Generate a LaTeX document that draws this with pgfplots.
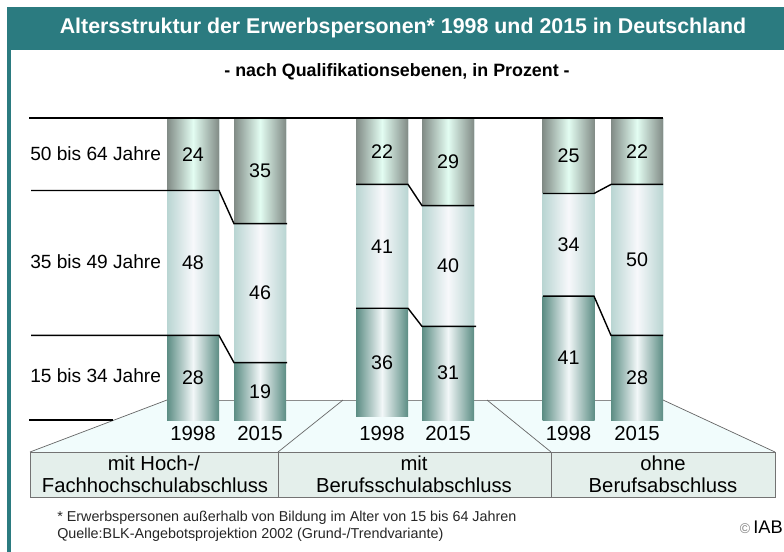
\documentclass[border=0pt]{standalone}
\usepackage{fontspec}
\setmainfont{Liberation Sans}
\usepackage{pgfplots}
\pgfplotsset{compat=1.18}
\definecolor{tealbar}{HTML}{2B7B80}
\definecolor{topE}{HTML}{818B86}
\definecolor{topM}{HTML}{E3FDF2}
\definecolor{midE}{HTML}{B9D5D2}
\definecolor{midM}{HTML}{F7F8FB}
\definecolor{botE}{HTML}{5C8D84}
\definecolor{botM}{HTML}{F2F7F8}
\definecolor{floorc}{HTML}{F1FCFC}
\definecolor{boxfill}{HTML}{E4EFEB}
\newcommand{\Y}[1]{((#1)-118)/3.02}
\newcommand{\fs}[1]{\fontsize{#1}{#1}\selectfont}
\pgfplotsset{
  segT/.style={bar shift=0pt, draw=none, left color=topE, right color=topE, middle color=topM},
  segM/.style={bar shift=0pt, draw=none, left color=midE, right color=midE, middle color=midM},
  segB/.style={bar shift=0pt, draw=none, left color=botE, right color=botE, middle color=botM},
  bline/.style={sharp plot, black, line width=1pt},
}
\begin{document}
\begin{tikzpicture}
\begin{axis}[
  scale only axis, width=19.6cm, height=13.8cm,
  xmin=0, xmax=784, y dir=reverse, ymin=-39.0728, ymax=143.7086,
  hide axis, clip=false,
  ybar, bar width=52,
]
% frame
\path (axis cs:0,{\Y{0}}) rectangle (axis cs:784,{\Y{552}});
\fill[tealbar] (axis cs:7,{\Y{7}}) rectangle (axis cs:784,{\Y{50}});
\fill[tealbar] (axis cs:7,{\Y{7}}) rectangle (axis cs:11,{\Y{552}});
\node[text=white, font=\bfseries\fs{15.2}] at (axis cs:403,{\Y{28}}) {Altersstruktur der Erwerbspersonen* 1998 und 2015 in Deutschland};
\node[font=\bfseries\fs{12.7}] at (axis cs:397,{\Y{72}}) {- nach Qualifikationsebenen, in Prozent -};
% floor
\fill[floorc] (axis cs:167,{\Y{400}}) -- (axis cs:663,{\Y{400}}) -- (axis cs:775,{\Y{452}}) -- (axis cs:30,{\Y{452}}) -- cycle;
\draw[black!45, line width=0.6pt] (axis cs:167,{\Y{400}}) -- (axis cs:663,{\Y{400}});
\draw[black!60, line width=0.5pt] (axis cs:167,{\Y{400}}) -- (axis cs:30,{\Y{452}});
\draw[black!60, line width=0.5pt] (axis cs:343,{\Y{400}}) -- (axis cs:278,{\Y{452}});
\draw[black!60, line width=0.5pt] (axis cs:487,{\Y{400}}) -- (axis cs:551,{\Y{452}});
\draw[black!60, line width=0.5pt] (axis cs:663,{\Y{400}}) -- (axis cs:775,{\Y{452}});
\draw[black, line width=1pt] (axis cs:29,{\Y{420}}) -- (axis cs:113,{\Y{420}});
% box
\draw[black!55, fill=boxfill, line width=0.7pt] (axis cs:30,{\Y{452}}) rectangle (axis cs:775,{\Y{497}});
\draw[black!55, line width=0.7pt] (axis cs:278,{\Y{452}}) -- (axis cs:278,{\Y{497}});
\draw[black!55, line width=0.7pt] (axis cs:551,{\Y{452}}) -- (axis cs:551,{\Y{497}});

% bars, cumulative from the top: 15-34 (to bottom), 35-49, 50-64
\addplot[segB] coordinates {(193,100)};
\addplot[segM] coordinates {(193,72)};
\addplot[segT] coordinates {(193,24)};
\addplot[segB] coordinates {(260,100)};
\addplot[segM] coordinates {(260,81)};
\addplot[segT] coordinates {(260,35)};
\addplot[segB] coordinates {(382,99)};
\addplot[segM] coordinates {(382,63)};
\addplot[segT] coordinates {(382,22)};
\addplot[segB] coordinates {(448,100)};
\addplot[segM] coordinates {(448,69)};
\addplot[segT] coordinates {(448,29)};
\addplot[segB] coordinates {(568.5,100)};
\addplot[segM] coordinates {(568.5,59)};
\addplot[segT] coordinates {(568.5,25)};
\addplot[segB] coordinates {(637,100)};
\addplot[segM] coordinates {(637,72)};
\addplot[segT] coordinates {(637,22)};

% boundary lines
\addplot[bline] coordinates {(29,0) (663,0)};
\addplot[bline] coordinates {(31,24) (219,24) (234,35) (287,35)};
\addplot[bline] coordinates {(31,72) (219,72) (234,81) (287,81)};
\addplot[bline] coordinates {(356,22) (408,22) (422,29) (474,29)};
\addplot[bline] coordinates {(356,63) (408,63) (422,69) (476,69)};
\addplot[bline] coordinates {(543,25) (594,25) (611,22) (663,22)};
\addplot[bline] coordinates {(543,59) (594,59) (611,72) (663,72)};

% value labels
\addplot[only marks, mark=*, mark size=0pt, draw=none, fill=none,
  point meta=explicit symbolic, nodes near coords,
  every node near coord/.append style={anchor=center, font=\fs{14}, text=black, inner sep=0pt}]
  coordinates {
  (193,12) [24] (193,48) [48] (193,86) [28]
  (260,17.5) [35] (260,58) [46] (260,90.5) [19]
  (382,11) [22] (382,42.5) [41] (382,81) [36]
  (448,14.5) [29] (448,49) [40] (448,84.5) [31]
  (568.5,12.5) [25] (568.5,42) [34] (568.5,79.5) [41]
  (637,11) [22] (637,47) [50] (637,86) [28]
  };

% age labels
\node[anchor=west, font=\fs{13.6}, inner sep=0pt] at (axis cs:30,{\Y{154}}) {50 bis 64 Jahre};
\node[anchor=west, font=\fs{13.6}, inner sep=0pt] at (axis cs:30,{\Y{262}}) {35 bis 49 Jahre};
\node[anchor=west, font=\fs{13.6}, inner sep=0pt] at (axis cs:30,{\Y{376}}) {15 bis 34 Jahre};
% years
\node[font=\fs{14.5}] at (axis cs:193,{\Y{433}}) {1998};
\node[font=\fs{14.5}] at (axis cs:260,{\Y{433}}) {2015};
\node[font=\fs{14.5}] at (axis cs:382,{\Y{433}}) {1998};
\node[font=\fs{14.5}] at (axis cs:448,{\Y{433}}) {2015};
\node[font=\fs{14.5}] at (axis cs:568.5,{\Y{433}}) {1998};
\node[font=\fs{14.5}] at (axis cs:637,{\Y{433}}) {2015};
% box texts
\node[font=\fs{14.4}] at (axis cs:154,{\Y{463}}) {mit Hoch-/};
\node[font=\fs{14.4}] at (axis cs:155,{\Y{485}}) {Fachhochschulabschluss};
\node[font=\fs{14.4}] at (axis cs:414,{\Y{463}}) {mit};
\node[font=\fs{14.4}] at (axis cs:414,{\Y{485}}) {Berufsschulabschluss};
\node[font=\fs{14.4}] at (axis cs:663,{\Y{463}}) {ohne};
\node[font=\fs{14.4}] at (axis cs:663,{\Y{485}}) {Berufsabschluss};
% footnote
\node[anchor=west, font=\fs{10.2}, text=black!85, inner sep=0pt] at (axis cs:57,{\Y{518}}) {* Erwerbspersonen außerhalb von Bildung im Alter von 15 bis 64 Jahren};
\node[anchor=west, font=\fs{10.2}, text=black!85, inner sep=0pt] at (axis cs:57,{\Y{535}}) {Quelle:BLK-Angebotsprojektion 2002 (Grund-/Trendvariante)};
\node[anchor=east, font=\fs{13}, inner sep=0pt] at (axis cs:783,{\Y{527}}) {{\color{black!50}\fs{10}\textcopyright}\,IAB};
\end{axis}
\end{tikzpicture}
\end{document}
